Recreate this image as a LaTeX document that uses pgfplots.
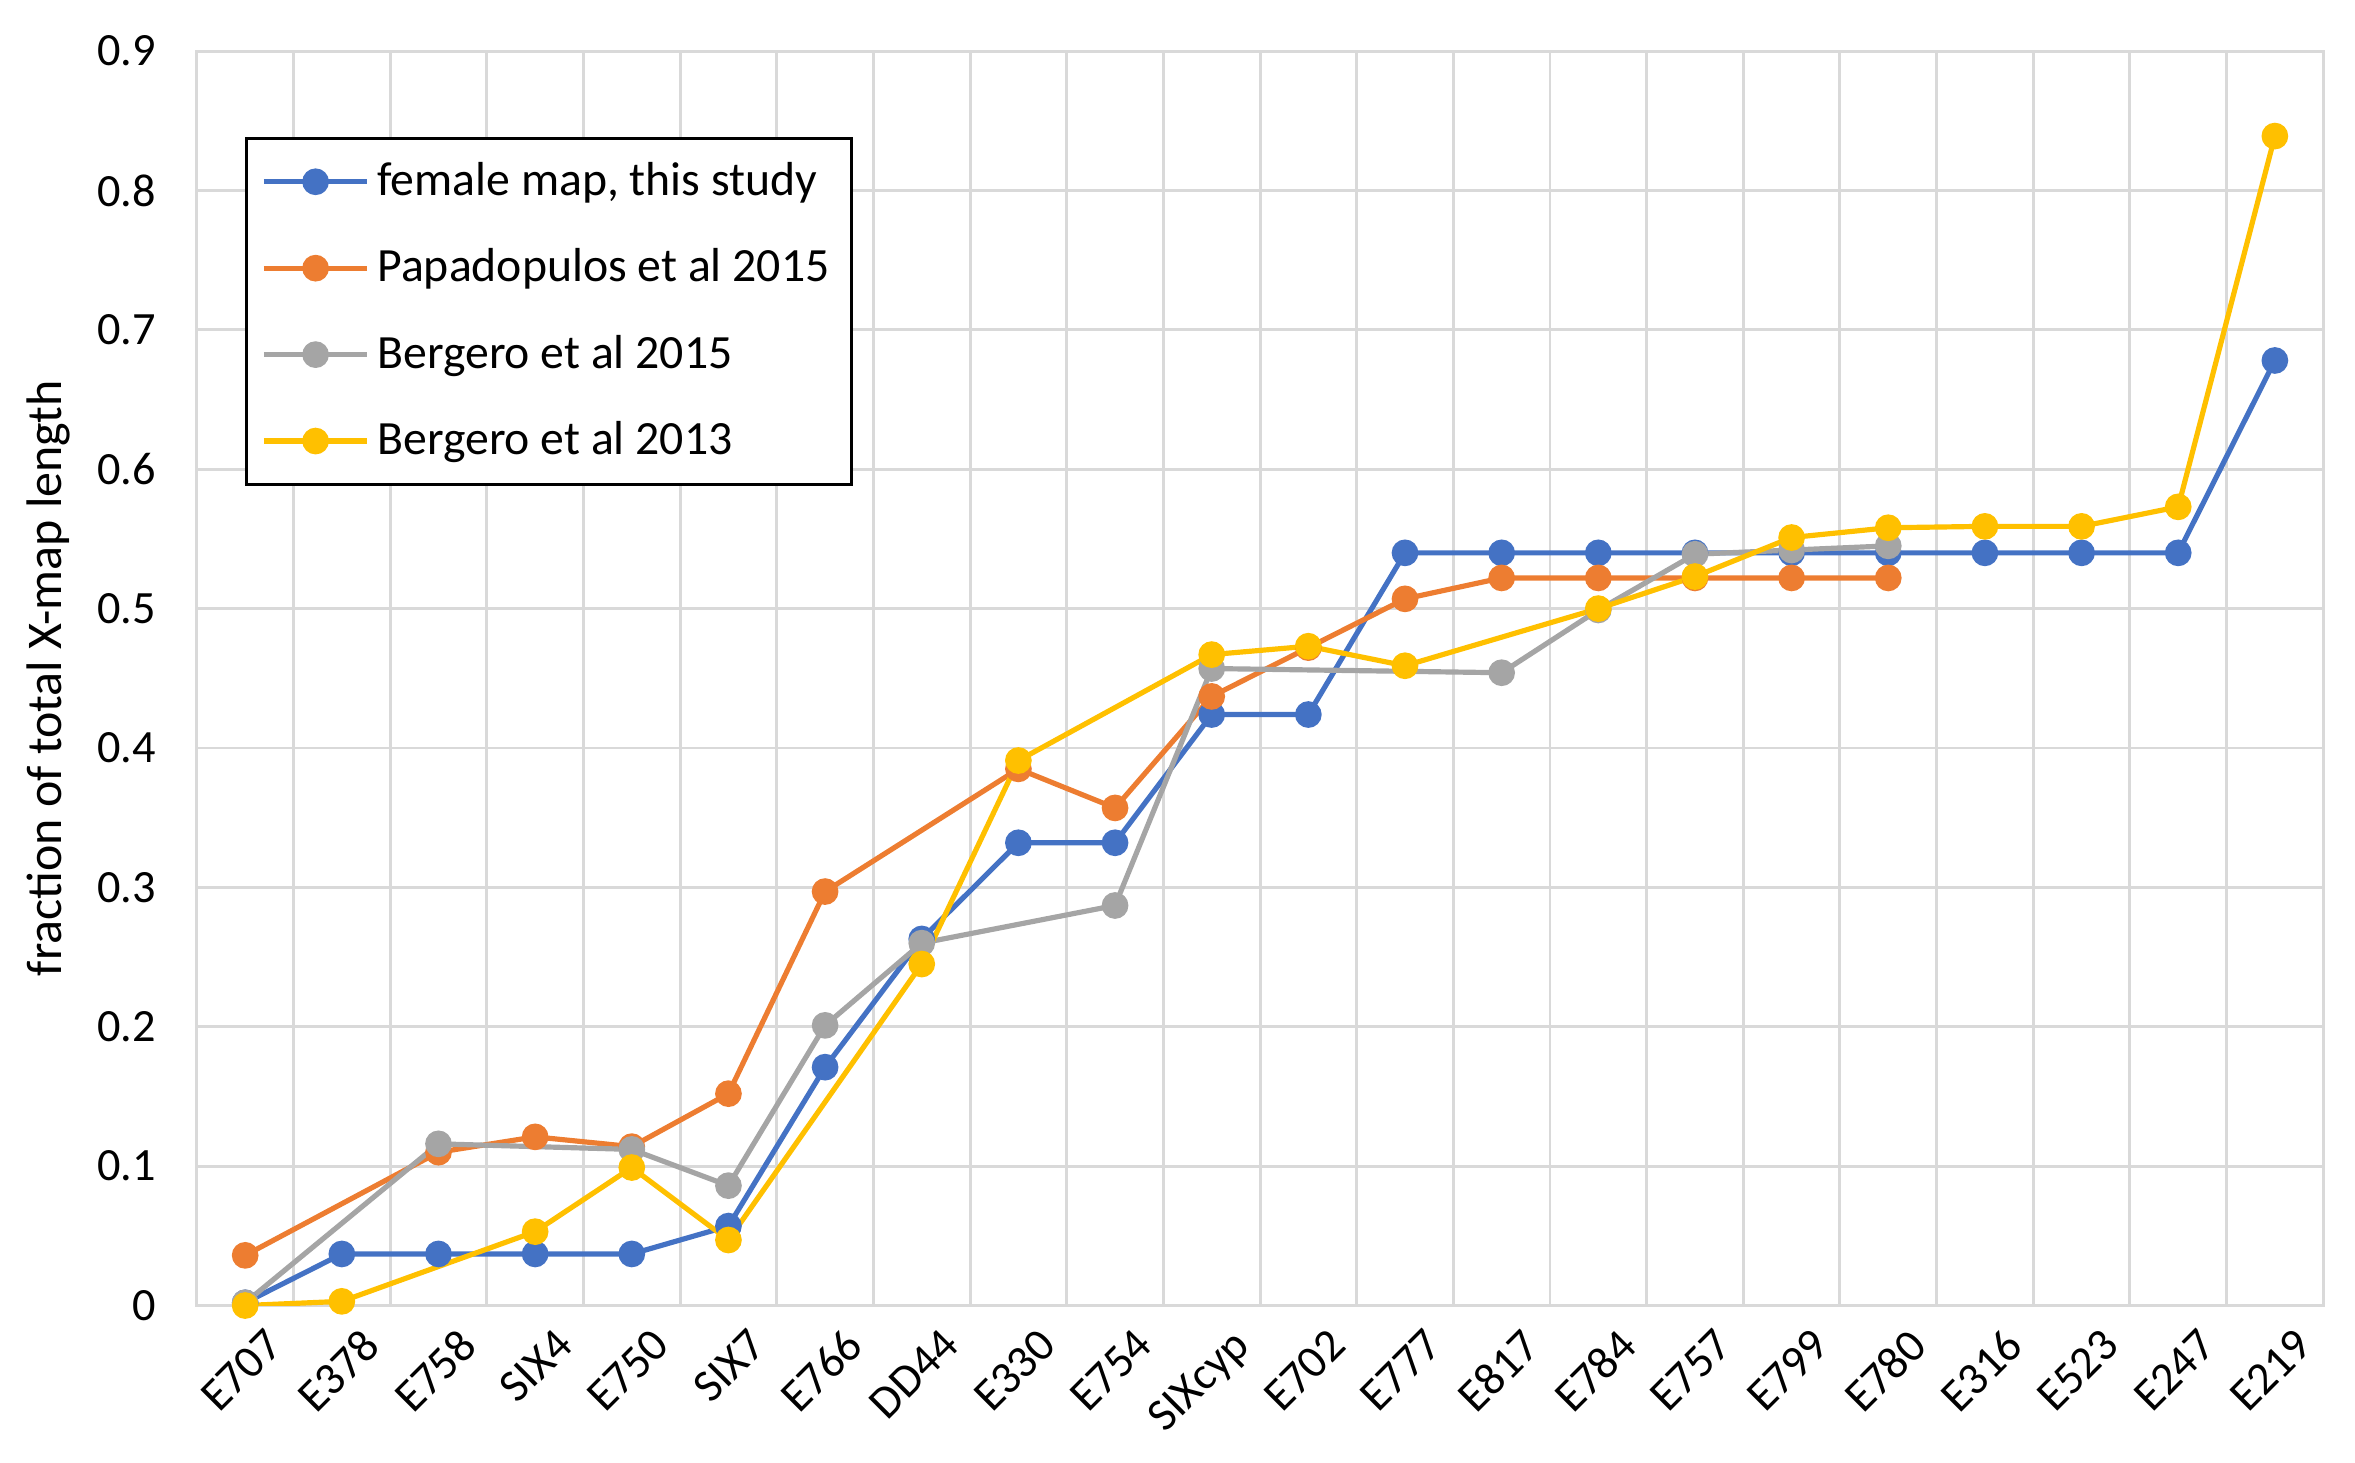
\documentclass[border=0pt]{standalone}
\usepackage{fontspec}
\setmainfont{Carlito}
\usepackage{pgfplots}
\pgfplotsset{compat=1.18}
\definecolor{cblue}{HTML}{4472C4}
\definecolor{corange}{HTML}{ED7D31}
\definecolor{cgray}{HTML}{A5A5A5}
\definecolor{cyellow}{HTML}{FFC000}
\definecolor{gridgray}{HTML}{D9D9D9}
\begin{document}
\begin{tikzpicture}
\begin{axis}[
    name=ax,
    scale only axis,
    width=574.6pt, height=339pt,
    xmin=-0.5, xmax=21.5,
    ymin=0, ymax=0.9,
    xtick={0,...,21},
    xticklabels={E707,E378,E758,SIX4,E750,SIX7,E766,DD44,E330,E754,SIXcyp,E702,E777,E817,E784,E757,E799,E780,E316,E523,E247,E219},
    minor xtick={-0.5,0.5,...,21.5},
    ytick={0,0.1,0.2,0.3,0.4,0.5,0.6,0.7,0.8,0.9},
    yticklabels={0,0.1,0.2,0.3,0.4,0.5,0.6,0.7,0.8,0.9},
    major tick length=0pt, minor tick length=0pt,
    xminorgrids=true, xmajorgrids=false, ymajorgrids=true,
    grid style={draw=gridgray, line width=0.8pt},
    minor grid style={draw=gridgray, line width=0.8pt},
    axis line style={draw=gridgray, line width=0.8pt},
    tick label style={font=\fontsize{12.5}{15}\selectfont},
    yticklabel style={xshift=-7.5pt},
    xticklabel style={rotate=45, anchor=north east, xshift=3pt, yshift=-4pt},
    ylabel={fraction of total X-map length},
    ylabel style={font=\fontsize{13.5}{16}\selectfont, at={(axis description cs:-0.0696,0.5)}, anchor=center},
    legend style={at={(axis description cs:0.0226,0.9316)}, anchor=north west,
        draw=black, line width=0.8pt, font=\fontsize{12.9}{15}\selectfont,
        row sep=8.9pt, inner xsep=4pt, inner ysep=4.5pt, cells={anchor=west}},
    legend image code/.code={\draw[mark repeat=2, mark phase=2, #1] plot coordinates {(0pt,0pt) (14pt,0pt) (28pt,0pt)};},
    every axis plot/.append style={line width=1.4pt, mark=*, mark size=2.9pt},
]
\addplot[cblue, mark options={fill=cblue, draw=cblue}] coordinates {
    (0,0.002) (1,0.037) (2,0.037) (3,0.037) (4,0.037) (5,0.057) (6,0.171) (7,0.263)
    (8,0.332) (9,0.332) (10,0.424) (11,0.424) (12,0.540) (13,0.540) (14,0.540)
    (15,0.540) (16,0.540) (17,0.540) (18,0.540) (19,0.540) (20,0.540) (21,0.678)
};
\addlegendentry{female map, this study}
\addplot[corange, mark options={fill=corange, draw=corange}] coordinates {
    (0,0.036) (2,0.110) (3,0.121) (4,0.114) (5,0.152) (6,0.297) (8,0.385) (9,0.357)
    (10,0.437) (11,0.472) (12,0.507) (13,0.522) (14,0.522) (15,0.522) (16,0.522) (17,0.522)
};
\addlegendentry{Papadopulos et al 2015}
\addplot[cgray, mark options={fill=cgray, draw=cgray}] coordinates {
    (0,0.002) (2,0.116) (4,0.112) (5,0.086) (6,0.201) (7,0.260) (9,0.287) (10,0.457)
    (13,0.454) (14,0.499) (15,0.539) (16,0.542) (17,0.545)
};
\addlegendentry{Bergero et al 2015}
\addplot[cyellow, mark options={fill=cyellow, draw=cyellow}] coordinates {
    (0,0.000) (1,0.003) (3,0.053) (4,0.099) (5,0.047) (7,0.245) (8,0.391) (10,0.467)
    (11,0.473) (12,0.459) (14,0.500) (15,0.523) (16,0.551) (17,0.558) (18,0.559)
    (19,0.559) (20,0.573) (21,0.839)
};
\addlegendentry{Bergero et al 2013}
\end{axis}
\pgfresetboundingbox
\path[use as bounding box] ([xshift=-53.2pt,yshift=-42.4pt]ax.south west) rectangle ([xshift=8.6pt,yshift=13.8pt]ax.north east);
\end{tikzpicture}
\end{document}
